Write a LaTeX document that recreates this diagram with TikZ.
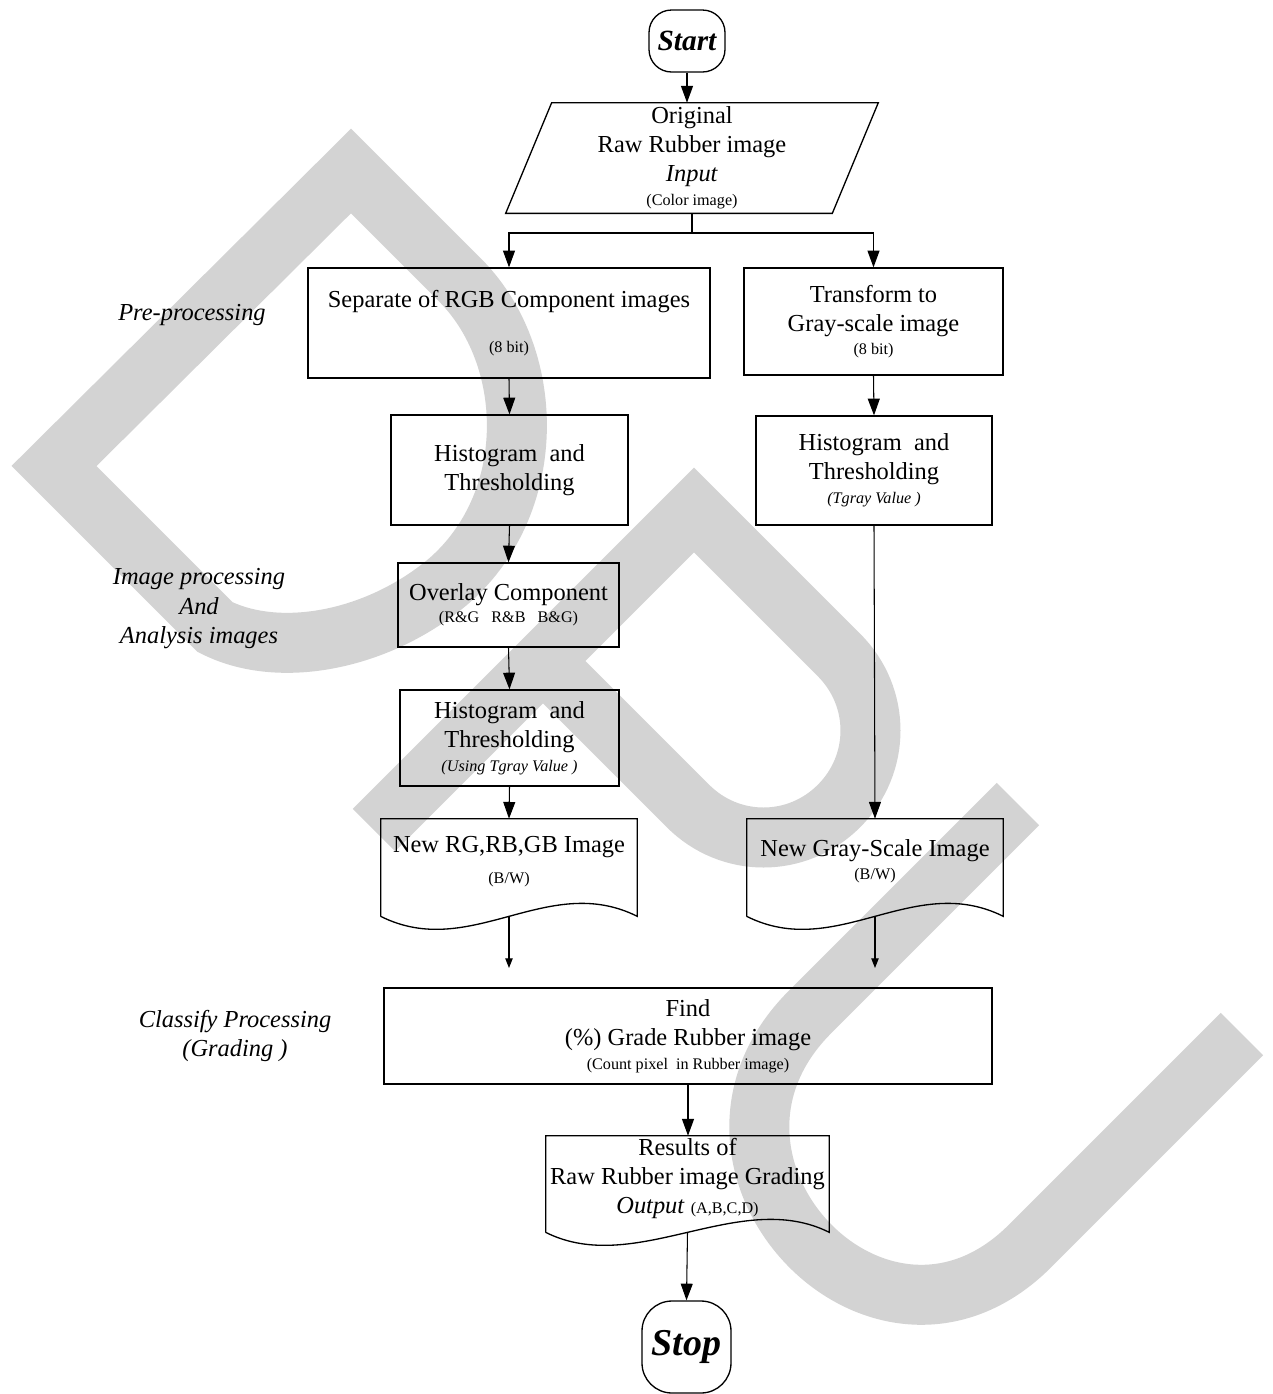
\documentclass[tikz,border=0pt]{standalone}
\usepackage{fontspec}
\setmainfont{Liberation Serif}
\usetikzlibrary{arrows.meta,calc}

\definecolor{wmgray}{RGB}{211,211,211}
\newcommand{\smallnote}{\fontsize{9.2}{11}\selectfont}
% wavy outline of a document node, bottom corners 12 units below the node
\newcommand{\docshape}[1]{%
  \draw[line width=0.75pt] (#1.south west) ++(0,12) -- (#1.north west) -- (#1.north east)
    -- (#1.south east) -- ++(0,12)
    .. controls +(-90,-45) and +(90,45) .. ($(#1.south west)+(0,12)$);
  \coordinate (#1-out) at ($(#1.south)+(0,12)$);}

\begin{document}
\begin{tikzpicture}[x=0.02cm, y=-0.02cm,
  every node/.style={font=\fontsize{13.9}{16.5}\selectfont, align=center, inner sep=0pt},
  box/.style={draw, line width=0.75pt, rectangle},
  term/.style={draw, line width=0.75pt, rectangle, font=\fontsize{16.7}{20}\selectfont\bfseries\itshape},
  side/.style={font=\fontsize{13.9}{16.8}\selectfont\itshape},
  arr/.style={line width=0.6pt, -{Triangle[length=9.5pt,width=6.8pt]}},
  arrsmall/.style={line width=0.6pt, -{Triangle[length=5.5pt,width=4.2pt]}},
  wm/.style={draw=wmgray, line width=1.2cm, line join=miter}]

  \useasboundingbox (0,0) rectangle (1273,1394);

  % watermark letters
  \begin{scope}
    \clip (0,0) rectangle (1273,1394);
    \draw[wm] (54,466) -- (351,171) -- (460,280) .. controls (535,355) and (540,500) .. (450,580)
      .. controls (380,640) and (280,660) .. (215,627) -- cycle;
    \draw[wm] (374,830) -- (694,510) -- (839,655) .. controls (881,697) and (881,764) .. (839,806)
      .. controls (797,848) and (730,848) .. (688,806) -- (543,661);
    \draw[wm] (1018,804) -- (810,1012) .. controls (659,1163) and (879,1397) .. (1030,1246) -- (1242,1034);
  \end{scope}

  % side labels
  \node[side] (pre) at (192,315) {Pre-processing};
  \node[side] (analysis) at (199,609) {Image processing\\And\\Analysis images};
  \node[side] (classify) at (235,1036) {Classify Processing\\(Grading )};

  % flow chart
  \node[term, rounded corners=0.45cm, minimum width=1.52cm, minimum height=1.24cm] (start) at (687,41) {Start};
  \node[minimum width=6.52cm, minimum height=2.2cm] (input) at (692,158)
    {Original\\Raw Rubber image\\\textit{Input}\\[-3pt]{\smallnote (Color image)}};
  \draw[line width=0.75pt] ([xshift=0.46cm]input.north west) -- ([xshift=0.46cm]input.north east)
    -- ([xshift=-0.46cm]input.south east) -- ([xshift=-0.46cm]input.south west) -- cycle;

  \node[box, minimum width=8.04cm, minimum height=2.2cm] (rgb) at (509,323)
    {Separate of RGB Component images\\[9pt]{\smallnote (8 bit)}};
  \node[box, minimum width=5.18cm, minimum height=2.14cm] (gray) at (873.5,321.5)
    {Transform to\\Gray-scale image\\[-3.5pt]{\smallnote (8 bit)}};
  \node[box, minimum width=4.74cm, minimum height=2.2cm] (hist1) at (509.5,470)
    {Histogram~~and\\Thresholding};
  \node[box, minimum width=4.72cm, minimum height=2.18cm] (hist2) at (874,470.5)
    {Histogram~~and\\Thresholding\\[-3pt]{\smallnote\itshape (Tgray Value )}};
  \node[box, minimum width=4.42cm, minimum height=1.68cm] (overlay) at (508.5,605)
    {Overlay Component\\[-4pt]{\smallnote (R\&G~~~R\&B~~~B\&G)}};
  \node[box, minimum width=4.38cm, minimum height=1.92cm] (hist3) at (509.5,738)
    {Histogram~~and\\Thresholding\\[-3pt]{\smallnote\itshape (Using Tgray Value )}};

  \node[minimum width=5.12cm, minimum height=1.7cm] (rgdoc) at (509,861.5)
    {New RG,RB,GB Image\\[1.5pt]{\smallnote (B/W)}};
  \docshape{rgdoc}
  \node[minimum width=5.12cm, minimum height=1.7cm] (gsdoc) at (875,861.5)
    {New Gray-Scale Image\\[-3.5pt]{\smallnote (B/W)}};
  \docshape{gsdoc}
  \coordinate (rgout) at (509,968);
  \coordinate (gsout) at (875,968);

  \node[box, minimum width=12.16cm, minimum height=1.92cm] (find) at (688,1036)
    {Find\\(\%) Grade Rubber image\\[-3pt]{\smallnote (Count pixel~~in Rubber image)}};
  \node[minimum width=5.66cm, minimum height=1.68cm] (result) at (687.5,1178)
    {Results of\\Raw Rubber image Grading\\\textit{Output} {\smallnote (A,B,C,D)}};
  \docshape{result}
  \node[term, rounded corners=0.6cm, minimum width=1.78cm, minimum height=1.84cm,
    font=\fontsize{21.6}{26}\selectfont\bfseries\itshape] (stop) at (686.5,1347) {Stop};

  % connectors
  \coordinate (split) at (692,233);
  \draw[arr] (start.south) -- (start.south |- input.north);
  \draw[line width=0.6pt] (input.south) -- (split);
  \draw[arr] (split) -| (rgb.north);
  \draw[arr] (split) -| (gray.north);
  \draw[arr] (rgb.south) -- (hist1.north);
  \draw[arr] (gray.south) -- (hist2.north);
  \draw[arr] (hist1.south) -- (overlay.north);
  \draw[arr] (overlay.south) -- (hist3.north);
  \draw[arr] (hist3.south) -- (rgdoc.north);
  \draw[arr] (hist2.south) -- (gsdoc.north);
  \draw[arrsmall] (rgdoc-out) -- (rgout);
  \draw[arrsmall] (gsdoc-out) -- (gsout);
  \draw[arr] (find.south) -- (find.south |- result.north);
  \draw[arr] (result-out) -- (stop.north);

\end{tikzpicture}
\end{document}
